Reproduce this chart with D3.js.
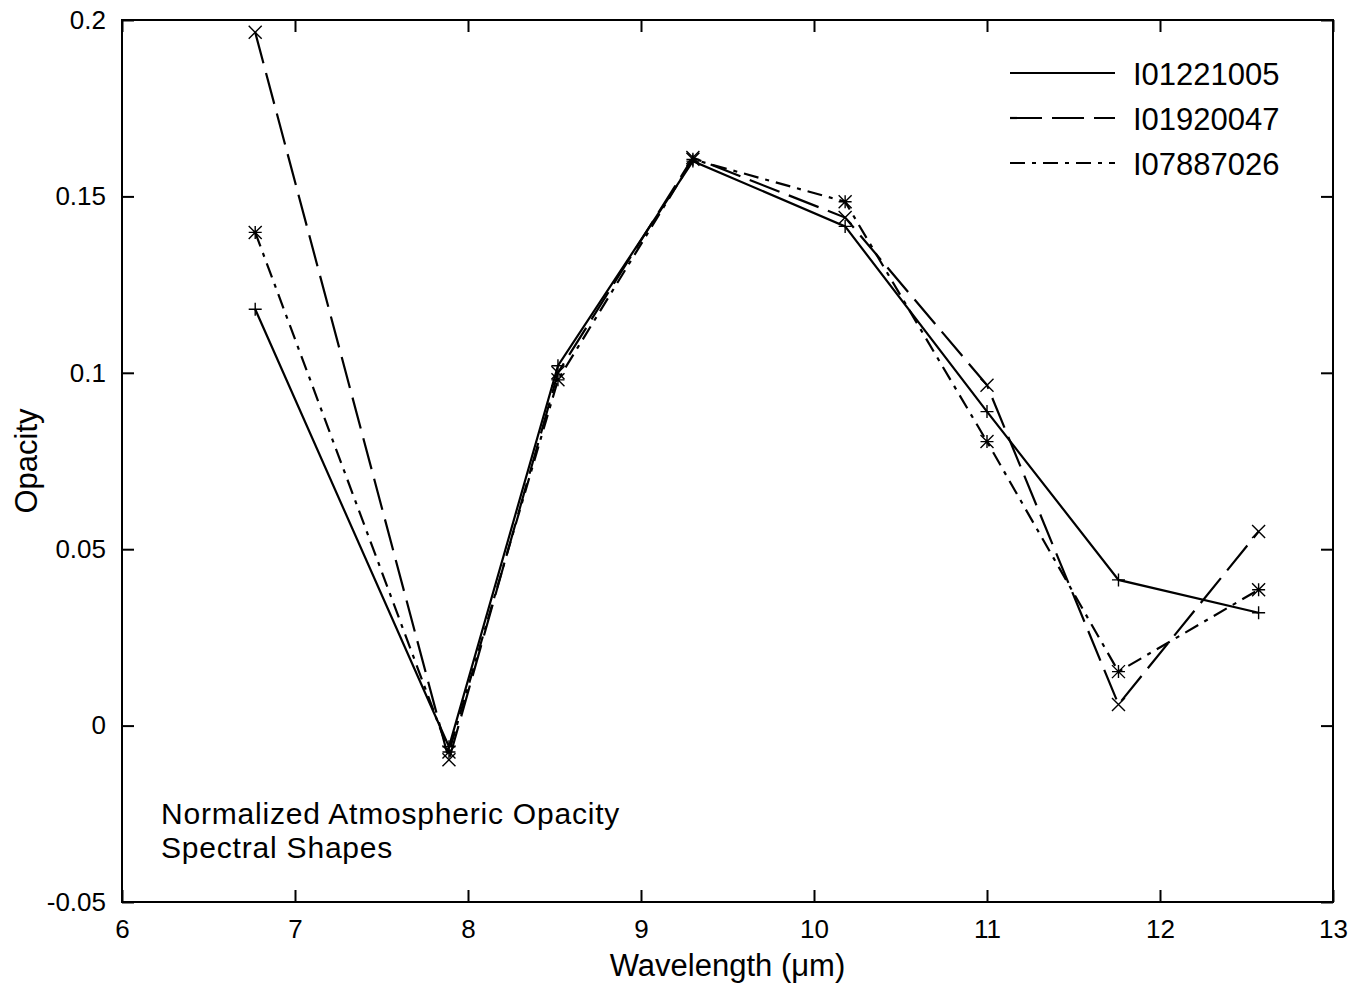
<!DOCTYPE html>
<html>
<head>
<meta charset="utf-8">
<script src="https://cdn.jsdelivr.net/npm/d3@7"></script>
<style>
  body { margin: 0; background: #fff; }
  text { font-family: "Liberation Sans", Arial, Helvetica, sans-serif; fill: #000; }
</style>
</head>
<body>
<div id="chart"></div>
<script>
// wavelengths (um) of the filter bands
const wavelengths = [6.77, 7.89, 8.52, 9.30, 10.18, 11.0, 11.76, 12.57];
const seriesNames = ["I01221005", "I01920047", "I07887026"];
const opacityA = [0.118, -0.006, 0.102, 0.160, 0.1415, 0.089, 0.0413, 0.032];
const opacityB = [0.1965, -0.0097, 0.100, 0.161, 0.144, 0.0965, 0.006, 0.055];
const opacityC = [0.1398, -0.0075, 0.098, 0.1605, 0.1485, 0.0805, 0.0153, 0.0385];
const xTicks = [6, 7, 8, 9, 10, 11, 12, 13];
const yTicks = [-0.05, 0, 0.05, 0.1, 0.15, 0.2];

const width = 1351, height = 983;
const margin = {top : 20, right : 18, bottom : 81, left : 122};

const svg = d3.select("#chart").append("svg")
                .attr("width", width)
                .attr("height", height);

const x = d3.scaleLinear().domain([ 6, 13 ]).range([ margin.left, width - margin.right ]);
const y = d3.scaleLinear().domain([ -0.05, 0.2 ]).range([ height - margin.bottom, margin.top ]);

const tickLen = 12;
const fmt = d => d === 0 ? "0" : String(d);

// bottom axis, ticks pointing inwards
svg.append("g")
    .attr("transform", `translate(0,${y(-0.05)})`)
    .call(d3.axisBottom(x).tickValues(xTicks).tickSize(-tickLen).tickPadding(tickLen + 6).tickFormat(fmt))
    .call(g => g.select(".domain").remove())
    .call(g => g.selectAll("text").attr("font-size", 26))
    .call(g => g.selectAll("line").attr("stroke-width", 2));

// top mirror ticks
svg.append("g")
    .attr("transform", `translate(0,${y(0.2)})`)
    .call(d3.axisTop(x).tickValues(xTicks).tickSize(-tickLen).tickFormat(""))
    .call(g => g.select(".domain").remove())
    .call(g => g.selectAll("line").attr("stroke-width", 2));

// left axis
svg.append("g")
    .attr("transform", `translate(${x(6)},0)`)
    .call(d3.axisLeft(y).tickValues(yTicks).tickSize(-tickLen).tickPadding(tickLen + 4).tickFormat(fmt))
    .call(g => g.select(".domain").remove())
    .call(g => g.selectAll("text").attr("font-size", 26))
    .call(g => g.selectAll("line").attr("stroke-width", 2));

// right mirror ticks
svg.append("g")
    .attr("transform", `translate(${x(13)},0)`)
    .call(d3.axisRight(y).tickValues(yTicks).tickSize(-tickLen).tickFormat(""))
    .call(g => g.select(".domain").remove())
    .call(g => g.selectAll("line").attr("stroke-width", 2));

// frame
svg.append("rect")
    .attr("x", x(6)).attr("y", y(0.2))
    .attr("width", x(13) - x(6)).attr("height", y(-0.05) - y(0.2))
    .attr("fill", "none").attr("stroke", "#000").attr("stroke-width", 2);

// axis titles
svg.append("text")
    .attr("x", (x(6) + x(13)) / 2).attr("y", 976)
    .attr("text-anchor", "middle").attr("font-size", 31)
    .text("Wavelength (\u03bcm)");

svg.append("text")
    .attr("transform", `translate(37,${(y(0.2) + y(-0.05)) / 2}) rotate(-90)`)
    .attr("text-anchor", "middle").attr("font-size", 31)
    .text("Opacity");

// annotation
svg.append("text").attr("x", 161).attr("y", 824).attr("font-size", 30).attr("letter-spacing", 0.8)
    .text("Normalized Atmospheric Opacity");
svg.append("text").attr("x", 161).attr("y", 858).attr("font-size", 30).attr("letter-spacing", 0.8)
    .text("Spectral Shapes");

const series = [
  {name : seriesNames[0], values : opacityA, dash : null, marker : "plus"},
  {name : seriesNames[1], values : opacityB, dash : "32,10", marker : "cross"},
  {name : seriesNames[2], values : opacityC, dash : "15,7,4,7", marker : "star"}
];

const line = d3.line().x(d => x(d[0])).y(d => y(d[1]));

function drawMarker(g, type, cx, cy) {
  const s = 6.5;
  let p = "";
  if (type === "plus" || type === "star")
    p += `M${cx - s},${cy}L${cx + s},${cy}M${cx},${cy - s}L${cx},${cy + s}`;
  if (type === "cross" || type === "star")
    p += `M${cx - s},${cy - s}L${cx + s},${cy + s}M${cx - s},${cy + s}L${cx + s},${cy - s}`;
  g.append("path").attr("d", p).attr("stroke", "#000").attr("stroke-width", 1.4).attr("fill", "none");
}

series.forEach(s => {
  const pts = wavelengths.map((w, i) => [ w, s.values[i] ]);
  const g = svg.append("g");
  g.append("path")
      .attr("d", line(pts))
      .attr("fill", "none")
      .attr("stroke", "#000")
      .attr("stroke-width", 2.2)
      .attr("stroke-dasharray", s.dash);
  pts.forEach(p => drawMarker(g, s.marker, x(p[0]), y(p[1])));
});

// legend
const legend = svg.append("g");
series.forEach((s, i) => {
  const ly = 73 + i * 45;
  legend.append("line")
      .attr("x1", 1010).attr("x2", 1115).attr("y1", ly).attr("y2", ly)
      .attr("stroke", "#000").attr("stroke-width", 2.2)
      .attr("stroke-dasharray", s.dash);
  legend.append("text")
      .attr("x", 1133).attr("y", ly + 12)
      .attr("font-size", 31)
      .text(s.name);
});
</script>
</body>
</html>
